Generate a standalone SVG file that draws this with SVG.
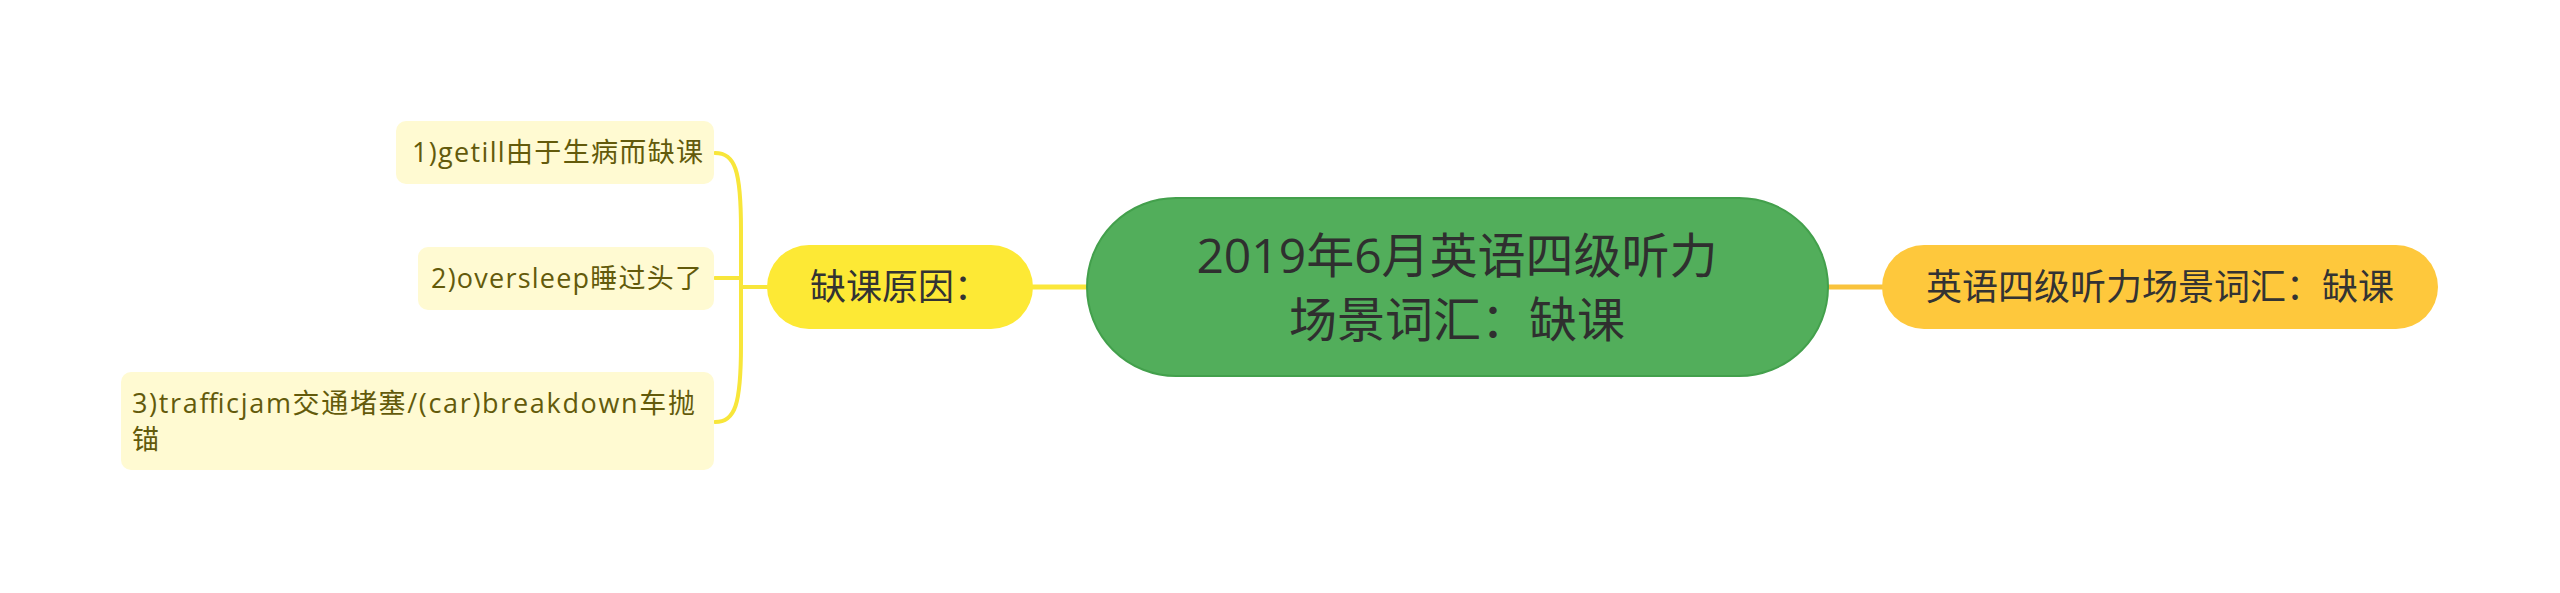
<svg xmlns="http://www.w3.org/2000/svg" width="2560" height="593" viewBox="0 0 2560 593">
<style>
text{font-family:"Open Sans","Noto Sans CJK SC",sans-serif;}
.main{font-size:48px;fill:#2f2f2f;text-anchor:middle;}
.sub{font-size:36px;fill:#333333;text-anchor:middle;}
.leaf{font-size:27px;fill:#635a0b;}
.leafbox{fill:#fffad2;}
.conn{fill:none;stroke-linecap:round;}
</style>
<rect width="2560" height="593" fill="#ffffff"/>
<g id="connectors">
<path class="conn" d="M1033,287 L1087,287" stroke="#fbe73a" stroke-width="5"/>
<path class="conn" d="M1828,287 L1882,287" stroke="#f9c33c" stroke-width="5"/>
<path class="conn" d="M767,287 L741,287" stroke="#f8e63a" stroke-width="4"/>
<path class="conn" d="M715,153 C735,153 741,170 741,230 L741,345 C741,405 735,422 715,422" stroke="#f8e63a" stroke-width="4"/>
<path class="conn" d="M715,278 L741,278" stroke="#f8e63a" stroke-width="4"/>
</g>
<g id="central">
<rect x="1087" y="198" width="741" height="178" rx="89" fill="#52ae5b" stroke="#43a04c" stroke-width="2"/>
<text class="main" x="1457" y="273">2019年6月英语四级听力</text>
<text class="main" x="1457" y="337">场景词汇：缺课</text>
</g>
<g id="right">
<rect x="1882" y="245" width="556" height="84" rx="42" fill="#fec83c"/>
<text class="sub" x="2160" y="300">英语四级听力场景词汇：缺课</text>
</g>
<g id="left">
<rect x="767" y="245" width="266" height="84" rx="42" fill="#fde935"/>
<text class="sub" x="900" y="300">缺课原因：</text>
</g>
<g id="leaf1">
<rect class="leafbox" x="396" y="121" width="318" height="63" rx="10"/>
<text class="leaf" x="412" y="162" textLength="291" lengthAdjust="spacing">1)getill由于生病而缺课</text>
</g>
<g id="leaf2">
<rect class="leafbox" x="418" y="247" width="296" height="63" rx="10"/>
<text class="leaf" x="431" y="288" textLength="271" lengthAdjust="spacing">2)oversleep睡过头了</text>
</g>
<g id="leaf3">
<rect class="leafbox" x="121" y="372" width="593" height="98" rx="10"/>
<text class="leaf" x="132" y="413" textLength="563" lengthAdjust="spacing">3)trafficjam交通堵塞/(car)breakdown车抛</text>
<text class="leaf" x="132" y="449">锚</text>
</g>
</svg>
